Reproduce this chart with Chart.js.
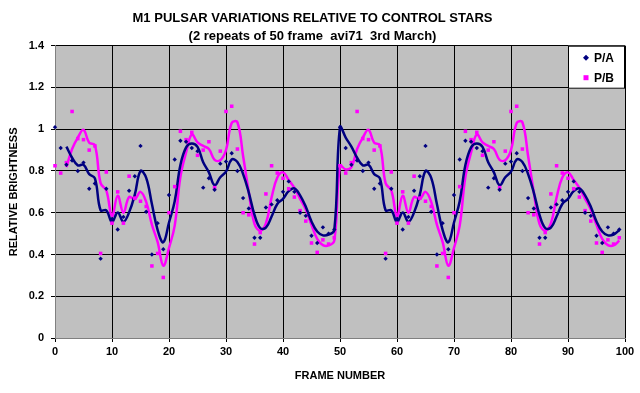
<!DOCTYPE html>
<html>
<head>
<meta charset="utf-8">
<script src="https://cdn.jsdelivr.net/npm/chart.js@4"></script>
<style>
  html, body { margin: 0; padding: 0; background: #ffffff; }
  #wrap { width: 640px; height: 393px; }
</style>
</head>
<body>
<div id="wrap"><canvas id="pulsarChart" width="640" height="393"></canvas></div>
<script>
// one 50 frame cycle, shown twice
const repeats = 2
const framesPerRepeat = 50

// P/A relative brightness, frames 0..49
const paValues = [
	1.01, 0.91, 0.83, 0.85, 0.80, 0.84, 0.715, 0.74, 0.38, 0.715,
	0.57, 0.52, 0.58, 0.705, 0.775, 0.92, 0.605, 0.40, 0.55, 0.425,
	0.685, 0.855, 0.945, 0.94, 0.91, 0.895, 0.72, 0.765, 0.71, 0.835,
	0.845, 0.885, 0.80, 0.67, 0.62, 0.48, 0.48, 0.625, 0.64, 0.66,
	0.70, 0.75, 0.70, 0.60, 0.585, 0.49, 0.455, 0.53, 0.50, 0.52,
]

// P/B relative brightness, frames 0..49
const pbValues = [
	0.825, 0.79, 0.84, 1.085, 0.955, 0.95, 0.90, 0.92, 0.405, 0.795,
	0.55, 0.70, 0.55, 0.775, 0.67, 0.655, 0.63, 0.345, 0.405, 0.29,
	0.60, 0.725, 0.99, 0.95, 0.985, 0.875, 0.90, 0.94, 0.72, 0.895,
	1.085, 1.11, 0.905, 0.60, 0.59, 0.45, 0.505, 0.69, 0.825, 0.79,
	0.765, 0.715, 0.675, 0.61, 0.56, 0.455, 0.41, 0.47, 0.45, 0.48,
]

const xTicks = [0, 10, 20, 30, 40, 50, 60, 70, 80, 90, 100]
const yTicks = [0, 0.2, 0.4, 0.6, 0.8, 1, 1.2, 1.4]

function toPoints(values) {
	const pts = []
	for (let r = 0; r < repeats; r++) {
		values.forEach((v, i) => pts.push({ x: r * framesPerRepeat + i, y: v }))
	}
	return pts
}

// 3 frame moving average trend, restarted for each repeat
function movingAverage(values) {
	const pts = []
	for (let r = 0; r < repeats; r++) {
		for (let i = 0; i < values.length; i++) {
			if (r === 0 && i < 2) continue
			const win = values.slice(Math.max(0, i - 2), i + 1)
			const avg = win.reduce((a, b) => a + b, 0) / win.length
			pts.push({ x: r * framesPerRepeat + i, y: avg })
		}
	}
	return pts
}

const navy = "#000080"
const magenta = "#ff00ff"

// legend box drawn over the top right of the plot, like the original
const boxLegend = {
	id: "boxLegend",
	afterDraw(chart) {
		const ctx = chart.ctx
		const area = chart.chartArea
		const w = 57, h = 43
		const left = area.right - w, top = area.top
		ctx.save()
		ctx.fillStyle = "#ffffff"
		ctx.fillRect(left, top, w, h)
		ctx.strokeStyle = "#000000"
		ctx.lineWidth = 1
		ctx.strokeRect(left + 0.5, top + 0.5, w - 1, h - 1)
		ctx.font = "bold 12px 'Liberation Sans', Arial, sans-serif"
		ctx.textBaseline = "middle"
		ctx.fillStyle = "#000000"
		const items = chart.data.datasets.filter((d) => d.inLegend)
		items.forEach((d, i) => {
			const y = top + 12 + i * 20
			const mx = left + 18
			ctx.fillStyle = d.pointBackgroundColor
			if (d.pointStyle === "rect") {
				ctx.fillRect(mx - 2.5, y - 2.5, 5, 5)
			} else {
				ctx.beginPath()
				ctx.moveTo(mx, y - 3)
				ctx.lineTo(mx + 3, y)
				ctx.lineTo(mx, y + 3)
				ctx.lineTo(mx - 3, y)
				ctx.closePath()
				ctx.fill()
			}
			ctx.fillStyle = "#000000"
			ctx.fillText(d.label, mx + 8, y + 1)
		})
		ctx.restore()
	},
}

// grey plot background
const plotBackground = {
	id: "plotBackground",
	beforeDraw(chart) {
		const { ctx, chartArea } = chart
		ctx.save()
		ctx.fillStyle = "#c0c0c0"
		ctx.fillRect(chartArea.left, chartArea.top, chartArea.width, chartArea.height)
		ctx.restore()
	},
}

const font = { family: "'Liberation Sans', Arial, sans-serif", weight: "bold", size: 11 }

document.addEventListener("DOMContentLoaded", function () {
	const ctx = document.getElementById("pulsarChart").getContext("2d")
	new Chart(ctx, {
		type: "scatter",
		data: {
			datasets: [
				{
					label: "P/A",
					inLegend: true,
					data: toPoints(paValues),
					pointStyle: "rectRot",
					pointRadius: 2.2,
					pointBackgroundColor: navy,
					pointBorderColor: navy,
					borderWidth: 0,
					showLine: false,
					clip: false,
					order: 1,
				},
				{
					label: "P/B",
					inLegend: true,
					data: toPoints(pbValues),
					pointStyle: "rect",
					pointRadius: 2.5,
					pointBackgroundColor: magenta,
					pointBorderColor: magenta,
					borderWidth: 0,
					showLine: false,
					clip: false,
					order: 2,
				},
				{
					label: "P/A trend",
					data: movingAverage(paValues),
					showLine: true,
					borderColor: navy,
					borderWidth: 2.5,
					pointRadius: 0,
					tension: 0.4,
					order: 3,
				},
				{
					label: "P/B trend",
					data: movingAverage(pbValues),
					showLine: true,
					borderColor: magenta,
					borderWidth: 2.5,
					pointRadius: 0,
					tension: 0.4,
					order: 4,
				},
			],
		},
		options: {
			responsive: false,
			animation: false,
			layout: { padding: { left: 0, right: 15, top: 0, bottom: 0 } },
			plugins: {
				legend: { display: false },
				tooltip: { enabled: false },
				title: {
					display: true,
					text: [
						"M1 PULSAR VARIATIONS RELATIVE TO CONTROL STARS",
						"(2 repeats of 50 frame  avi71  3rd March)",
					],
					color: "#000000",
					font: { family: font.family, weight: "bold", size: 13, lineHeight: 1.4 },
					padding: { top: 9.3, bottom: 0 },
				},
			},
			scales: {
				x: {
					type: "linear",
					min: 0,
					max: 100,
					afterBuildTicks: (axis) => {
						axis.ticks = xTicks.map((v) => ({ value: v }))
					},
					afterFit: (axis) => {
						axis.height = 55
					},
					grid: { color: "#000000", lineWidth: 1, tickLength: 4, drawTicks: true },
					border: { color: "#808080" },
					ticks: { color: "#000000", font: font, padding: 3, maxRotation: 0 },
					title: { display: true, text: "FRAME NUMBER", color: "#000000", font: font, padding: { top: 0, bottom: 10 } },
				},
				y: {
					min: 0,
					max: 1.4,
					afterBuildTicks: (axis) => {
						axis.ticks = yTicks.map((v) => ({ value: v }))
					},
					afterFit: (axis) => {
						axis.width = 55
					},
					grid: { color: "#000000", lineWidth: 1, tickLength: 4 },
					border: { color: "#808080" },
					ticks: { color: "#000000", font: font, padding: 7, callback: (v) => String(v) },
					title: { display: true, text: "RELATIVE BRIGHTNESS", color: "#000000", font: font, padding: { top: 7.5, bottom: 0 } },
				},
			},
		},
		plugins: [plotBackground, boxLegend],
	})
})
</script>
</body>
</html>
